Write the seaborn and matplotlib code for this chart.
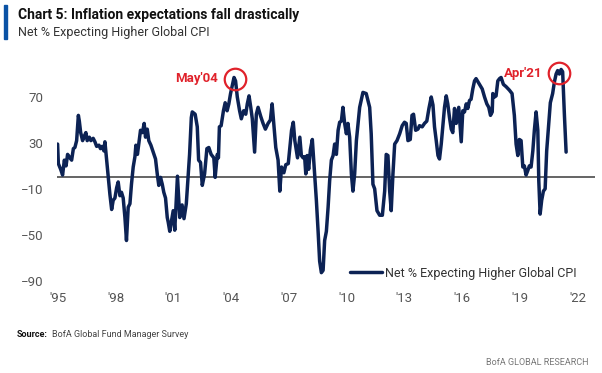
import matplotlib
matplotlib.use("Agg")
import matplotlib.pyplot as plt
from matplotlib import font_manager
from matplotlib.patches import Rectangle
import seaborn as sns
import pandas as pd

# ---------------- data ----------------
years = [
    1994.98, 1995.02, 1995.14, 1995.24, 1995.33, 1995.42, 1995.50, 1995.62, 1995.71, 1995.80,
    1995.88, 1995.97, 1996.06, 1996.11, 1996.18, 1996.28, 1996.37, 1996.45, 1996.52, 1996.63,
    1996.71, 1996.83, 1996.92, 1997.01, 1997.13, 1997.21, 1997.30, 1997.39, 1997.44, 1997.53,
    1997.61, 1997.70, 1997.79, 1997.87, 1997.96, 1998.05, 1998.13, 1998.22, 1998.30, 1998.39,
    1998.48, 1998.56, 1998.65, 1998.74, 1998.82, 1998.91, 1999.00, 1999.05, 1999.13, 1999.22,
    1999.29, 1999.39, 1999.48, 1999.55, 1999.64, 1999.72, 1999.83, 1999.95, 2000.07, 2000.16,
    2000.24, 2000.33, 2000.42, 2000.50, 2000.59, 2000.68, 2000.73, 2000.81, 2000.90, 2000.99,
    2001.07, 2001.21, 2001.33, 2001.45, 2001.55, 2001.67, 2001.76, 2001.84, 2001.93, 2001.98,
    2002.13, 2002.24, 2002.31, 2002.41, 2002.50, 2002.62, 2002.74, 2002.84, 2002.96, 2003.10,
    2003.17, 2003.28, 2003.34, 2003.39, 2003.48, 2003.60, 2003.69, 2003.79, 2003.88, 2003.97,
    2004.06, 2004.15, 2004.23, 2004.32, 2004.44, 2004.53, 2004.65, 2004.76, 2004.84, 2004.93,
    2005.02, 2005.10, 2005.22, 2005.31, 2005.40, 2005.54, 2005.66, 2005.78, 2005.92, 2006.04,
    2006.13, 2006.21, 2006.32, 2006.44, 2006.53, 2006.62, 2006.74, 2006.84, 2006.97, 2007.05,
    2007.14, 2007.23, 2007.31, 2007.45, 2007.57, 2007.65, 2007.74, 2007.82, 2007.88, 2007.95,
    2008.03, 2008.12, 2008.22, 2008.34, 2008.43, 2008.52, 2008.60, 2008.69, 2008.78, 2008.86,
    2008.95, 2009.04, 2009.12, 2009.21, 2009.30, 2009.38, 2009.47, 2009.56, 2009.64, 2009.73,
    2009.81, 2009.90, 2009.99, 2010.07, 2010.16, 2010.25, 2010.33, 2010.42, 2010.51, 2010.68,
    2010.85, 2011.02, 2011.20, 2011.28, 2011.37, 2011.46, 2011.58, 2011.72, 2011.86, 2011.98,
    2012.06, 2012.15, 2012.24, 2012.32, 2012.41, 2012.50, 2012.62, 2012.76, 2012.89, 2013.01,
    2013.10, 2013.19, 2013.31, 2013.40, 2013.48, 2013.59, 2013.71, 2013.79, 2013.93, 2014.05,
    2014.17, 2014.28, 2014.40, 2014.49, 2014.57, 2014.66, 2014.75, 2014.83, 2014.92, 2015.09,
    2015.18, 2015.26, 2015.35, 2015.44, 2015.52, 2015.61, 2015.70, 2015.83, 2015.96, 2016.04,
    2016.13, 2016.22, 2016.30, 2016.39, 2016.47, 2016.56, 2016.65, 2016.73, 2016.91, 2017.05,
    2017.17, 2017.29, 2017.39, 2017.48, 2017.57, 2017.60, 2017.69, 2017.77, 2017.86, 2017.95,
    2018.03, 2018.15, 2018.29, 2018.46, 2018.60, 2018.72, 2018.81, 2018.90, 2018.98, 2019.07,
    2019.16, 2019.24, 2019.33, 2019.42, 2019.50, 2019.59, 2019.68, 2019.76, 2019.85, 2019.94,
    2019.99, 2020.06, 2020.14, 2020.23, 2020.32, 2020.40, 2020.51, 2020.59, 2020.71, 2020.80,
    2020.89, 2020.97, 2021.06, 2021.15, 2021.23, 2021.32, 2021.41,
]
net_pct = [
    29, 12, 7, 2, 15, 10, 20, 17, 15, 25,
    26, 32, 54, 49, 39, 32, 36, 39, 32, 35,
    32, 34, 31, 27, 28, 25, 27, 23, 31, 15,
    0, -15, -28, -20, -18, -9, -4, -16, -13, -18,
    -35, -55, -26, -23, -6, 9, 18, 28, 20, 32,
    41, 39, 47, 35, 42, 32, 28, 22, 16, 3,
    -7, 0, -6, -13, -18, -35, -39, -47, -38, -29,
    -46, 1, -35, -24, -36, -23, 0, 20, 52, 57,
    55, 44, 15, 13, -7, 3, 25, 26, 20, 17,
    0, 20, 17, 44, 45, 58, 65, 58, 64, 73,
    80, 87, 84, 70, 58, 51, 58, 55, 64, 71,
    61, 51, 22, 55, 61, 53, 47, 42, 47, 50,
    64, 48, 26, 15, -12, 9, 4, 11, 12, 26,
    41, 48, 32, 17, 35, 19, 17, 18, 3, 19,
    7, 24, 33, 3, -20, -47, -73, -83, -81, -55,
    -47, -26, -3, 15, 19, 29, 20, 41, 48, 49,
    61, 47, 38, 47, 35, 3, -12, 3, 32, 61,
    74, 73, 61, 38, -6, -10, -29, -33, -33, -12,
    20, 19, -12, -29, 3, 29, 32, 38, 45, 48,
    47, 32, 33, 54, 55, 41, 42, 45, 44, 47,
    49, 60, 70, 63, 44, 32, 19, 16, 29, 61,
    71, 64, 52, 42, 39, 60, 47, 61, 31, 58,
    57, 64, 60, 67, 68, 77, 84, 86, 81, 77,
    70, 64, 61, 54, 57, 73, 70, 71, 84, 86,
    87, 81, 79, 76, 73, 54, 29, 19, 33, 32,
    9, 10, 2, 6, 10, 9, 23, 41, 57, 41,
    -3, -32, -20, -12, -10, 23, 47, 65, 73, 83,
    90, 93, 90, 94, 92, 55, 22,
]
series_label = "Net % Expecting Higher Global CPI"

xtick_years = [1995, 1998, 2001, 2004, 2007, 2010, 2013, 2016, 2019, 2022]
xtick_labels = ["'95", "'98", "'01", "'04", "'07", "'10", "'13", "'16", "'19", "'22"]
ytick_values = [-90, -50, -10, 30, 70]

highlight_labels = ["May'04", "Apr'21"]
highlight_years = [2004.19, 2021.06]
highlight_values = [86, 90.5]

title = "Chart 5: Inflation expectations fall drastically"
subtitle = "Net % Expecting Higher Global CPI"
source_bold = "Source:"
source_text = "BofA Global Fund Manager Survey"
brand = "BofA GLOBAL RESEARCH"

# ---------------- style ----------------
sns.set_theme(style="white")
available = {f.name for f in font_manager.fontManager.ttflist}
cond = "Liberation Sans Narrow" if "Liberation Sans Narrow" in available else "Roboto"
plt.rcParams["font.family"] = [cond, "DejaVu Sans"]

NAVY = "#0c2254"
RED = "#e0222b"
GREY = "#555555"

df = pd.DataFrame({"year": years, "value": net_pct})

fig = plt.figure(figsize=(6.02, 3.73), dpi=100)
fig.patch.set_facecolor("white")
ax = fig.add_axes([0.0947, 0.2475, 0.8933, 0.6002])

ax.axhline(0, color="#3a3a3a", lw=1.1, zorder=1)
sns.lineplot(data=df, x="year", y="value", sort=False, color=NAVY, lw=2.5,
             label=series_label, ax=ax, zorder=3)

ax.set_xlim(1994.95, 2022.9)
ax.set_ylim(-90, 105)
ax.set_xticks(xtick_years)
ax.set_xticklabels(xtick_labels)
ax.set_yticks(ytick_values)
ax.set_xlabel("")
ax.set_ylabel("")
for s in ax.spines.values():
    s.set_visible(False)
ax.tick_params(axis="both", length=0, colors=GREY, labelsize=9.5)
ax.tick_params(axis="x", pad=8)
ax.tick_params(axis="y", pad=10)

# highlight circles and labels
for lab, hx, hy in zip(highlight_labels, highlight_years, highlight_values):
    ax.plot([hx], [hy], marker="o", ms=15.5, mfc="none", mec=RED, mew=1.6, zorder=4)
    ax.annotate(lab, xy=(hx, hy), xytext=(-12, 0), textcoords="offset points",
                ha="right", va="center", color=RED, fontsize=9.5, fontweight="bold")

leg = ax.legend(loc="center left", bbox_to_anchor=(0.5446, 0.034), frameon=False,
                borderpad=0, borderaxespad=0, handlelength=2.6, handletextpad=0.2,
                fontsize=9)
for t in leg.get_texts():
    t.set_color("#333333")

# header
fig.patches.append(Rectangle((0.0066, 0.8954), 0.005, 0.091, transform=fig.transFigure,
                             color="#0a52a5", zorder=5))
fig.text(0.030, 0.960, title, ha="left", va="center", fontsize=10, fontweight="bold",
         color="#111111")
fig.text(0.030, 0.912, subtitle, ha="left", va="center", fontsize=9, color="#333333")

# footer
fig.text(0.028, 0.102, source_bold, ha="left", va="center", fontsize=6.5, fontweight="bold",
         color="#111111")
fig.text(0.086, 0.102, source_text, ha="left", va="center", fontsize=6.5, color="#444444")
fig.text(0.978, 0.028, brand, ha="right", va="center", fontsize=6.5, color="#777777")

fig.savefig("out.png", dpi=100, facecolor="white")
